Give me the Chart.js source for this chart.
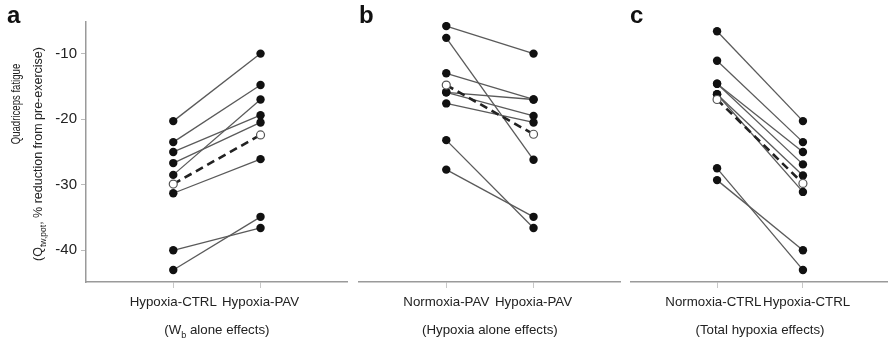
<!DOCTYPE html>
<html><head><meta charset="utf-8">
<script src="https://cdn.jsdelivr.net/npm/chart.js@4"></script>
<style>
html,body{margin:0;padding:0;background:#fff;overflow:hidden;width:888px;height:341px;position:relative;}
canvas{position:absolute;top:0;}
</style></head><body>
<canvas id="ca" width="353" height="341" style="left:0px"></canvas>
<canvas id="cb" width="273" height="341" style="left:353px"></canvas>
<canvas id="cc" width="268" height="341" style="left:626px"></canvas>
<script>
// ---- data ----
const panelLetters = ['a', 'b', 'c'];
const categoriesA = ['Hypoxia-CTRL', 'Hypoxia-PAV'];
const categoriesB = ['Normoxia-PAV', 'Hypoxia-PAV'];
const categoriesC = ['Normoxia-CTRL', 'Hypoxia-CTRL'];
const yTickValues = [-40, -30, -20, -10];
const yTitleLine1 = 'Quadriceps fatigue';
const yTitleLine2 = [['(Q', false], ['tw,pot', true], [', % reduction from pre-exercise)', false]];
const xTitleA = [['(W', false], ['b', true], [' alone effects)', false]];
const xTitleB = [['(Hypoxia alone effects)', false]];
const xTitleC = [['(Total hypoxia effects)', false]];

// panel a: subjects (paired by index)
const hypoxiaCtrlA = [-20.3, -23.5, -25.0, -26.7, -28.5, -31.3, -40.0, -43.0];
const hypoxiaPavA  = [-10.0, -14.8, -19.4, -20.5, -17.0, -26.1, -36.6, -34.9];
const meanA = [-29.9, -22.4];
// panel b
const normoxiaPavB = [-5.8, -7.6, -13.0, -15.9, -15.9, -17.6, -23.2, -27.7];
const hypoxiaPavB  = [-10.0, -26.2, -17.0, -17.0, -19.5, -20.5, -36.6, -34.9];
const meanB = [-14.8, -22.3];
// panel c
const normoxiaCtrlC = [-6.6, -11.1, -14.6, -14.6, -16.2, -16.2, -27.5, -29.3];
const hypoxiaCtrlC  = [-20.3, -23.5, -25.0, -26.9, -28.6, -31.1, -43.0, -40.0];
const meanC = [-17.0, -29.8];

// ---- rendering ----
const FONT = "'Liberation Sans', Arial, Helvetica, sans-serif";
const TXT = '#222';
const NB = '\u00a0\u00a0';

function drawRich(ctx, parts, cx, baseY, size) {
  const subSize = size * 0.68;
  let total = 0;
  const widths = parts.map(p => {
    ctx.font = (p[1] ? subSize : size) + 'px ' + FONT;
    const w = ctx.measureText(p[0]).width;
    total += w;
    return w;
  });
  let x = cx - total / 2;
  ctx.textAlign = 'left';
  ctx.textBaseline = 'alphabetic';
  ctx.fillStyle = TXT;
  parts.forEach((p, i) => {
    ctx.font = (p[1] ? subSize : size) + 'px ' + FONT;
    ctx.fillText(p[0], x, baseY + (p[1] ? size * 0.32 : 0));
    x += widths[i];
  });
}

function makeDatasets(left, right, mean) {
  const ds = [];
  ds.push({
    data: [{x: 1, y: mean[0]}, {x: 2, y: mean[1]}],
    borderColor: '#222', borderWidth: 2.6, borderDash: [8, 5],
    pointRadius: 4, pointBackgroundColor: '#fff', pointBorderColor: '#555', pointBorderWidth: 1.2
  });
  for (let i = 0; i < left.length; i++) {
    ds.push({
      data: [{x: 1, y: left[i]}, {x: 2, y: right[i]}],
      borderColor: '#5a5a5a', borderWidth: 1.3,
      pointRadius: 4.2, pointBackgroundColor: '#111', pointBorderColor: '#111', pointBorderWidth: 0
    });
  }
  return ds;
}

function makeChart(id, cats, left, right, mean, opt) {
  const plugin = {
    id: 'txt' + id,
    afterDraw(chart) {
      const ctx = chart.ctx;
      const xs = chart.scales.x;
      ctx.save();
      // panel letter
      ctx.font = 'bold 24px ' + FONT;
      ctx.fillStyle = '#111';
      ctx.textAlign = 'left';
      ctx.textBaseline = 'alphabetic';
      ctx.fillText(opt.letter, opt.letterX, 23);
      // x title
      drawRich(ctx, opt.xTitle, xs.getPixelForValue(1.5), 333.5, 13.3);
      // y title
      if (opt.yTitle) {
        ctx.save();
        ctx.translate(20, 104);
        ctx.rotate(-Math.PI / 2);
        ctx.scale(0.78, 1);
        drawRich(ctx, [[yTitleLine1, false]], 0, 0, 12.3);
        ctx.restore();
        ctx.save();
        ctx.translate(41.5, 154);
        ctx.rotate(-Math.PI / 2);
        drawRich(ctx, yTitleLine2, 0, 0, 12.5);
        ctx.restore();
      }
      ctx.restore();
    }
  };
  const yScale = {
    display: opt.yAxis,
    min: -44.84, max: -5.18,
    afterBuildTicks: s => { s.ticks = yTickValues.map(v => ({value: v})); },
    ticks: {font: {family: FONT, size: 15}, color: TXT, padding: 4, callback: v => String(v)},
    grid: {drawOnChartArea: false, drawTicks: true, tickLength: 5, tickColor: '#bbb', tickWidth: 1},
    border: {display: true, color: '#9a9a9a', width: 1.5}
  };
  if (opt.yAxis) yScale.afterFit = s => { s.width = 86; };
  const labelFor = (i) => {
    const t = cats[i];
    if (!opt.spread) return t;
    return i === 0 ? t + NB : NB + t;
  };
  return new Chart(document.getElementById(id), {
    type: 'line',
    data: {datasets: makeDatasets(left, right, mean)},
    options: {
      responsive: false, animation: false, devicePixelRatio: 1,
      layout: {padding: opt.padding},
      plugins: {legend: {display: false}, tooltip: {enabled: false}},
      scales: {
        x: {
          type: 'linear', min: 0, max: 3,
          afterBuildTicks: s => { s.ticks = [{value: 1}, {value: 2}]; },
          ticks: {callback: (v) => labelFor(Math.round(v) - 1), font: {family: FONT, size: 13.3}, color: TXT, padding: 6, maxRotation: 0, autoSkip: false},
          grid: {drawOnChartArea: false, drawTicks: true, tickLength: 6, tickColor: '#c8c8c8', tickWidth: 1},
          border: {display: true, color: '#9a9a9a', width: 1.5},
          afterFit: s => { s.height = 59; }
        },
        y: yScale
      }
    },
    plugins: [plugin]
  });
}

makeChart('ca', categoriesA, hypoxiaCtrlA, hypoxiaPavA, meanA,
  {letter: panelLetters[0], letterX: 7, xTitle: xTitleA, yTitle: true, yAxis: true, spread: false, padding: {top: 22, right: 5, left: 0, bottom: 0}});
makeChart('cb', categoriesB, normoxiaPavB, hypoxiaPavB, meanB,
  {letter: panelLetters[1], letterX: 6, xTitle: xTitleB, yTitle: false, yAxis: false, spread: false, padding: {top: 22, right: 4, left: 6, bottom: 0}});
makeChart('cc', categoriesC, normoxiaCtrlC, hypoxiaCtrlC, meanC,
  {letter: panelLetters[2], letterX: 4, xTitle: xTitleC, yTitle: false, yAxis: false, spread: true, padding: {top: 22, right: 0, left: 5, bottom: 0}});
</script>
</body></html>
